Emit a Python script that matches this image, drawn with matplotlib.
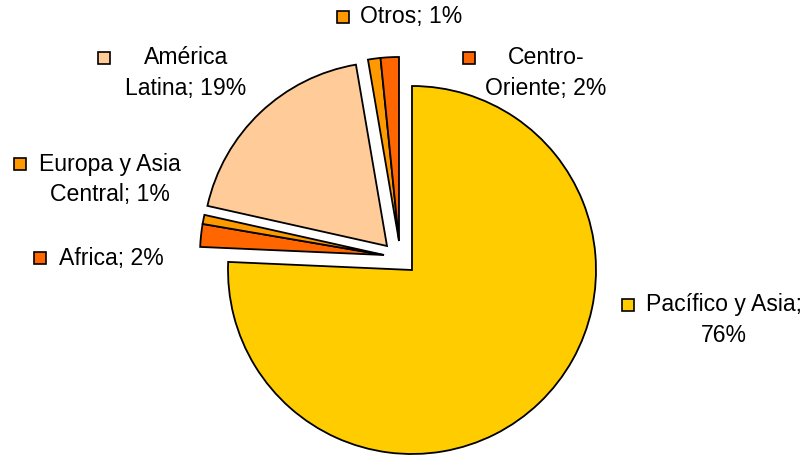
import matplotlib
matplotlib.use("Agg")
import matplotlib.pyplot as plt

# Regional shares (percent)
regions = ["Pacífico y Asia", "Africa", "Europa y Asia\nCentral", "América\nLatina", "Otros", "Centro-\nOriente"]
shares = [75.7, 2.0, 0.8, 18.8, 1.1, 1.6]
colors = ["#FFCC00", "#FF6600", "#FF9900", "#FFCC99", "#FF9900", "#FF6600"]
# text placed between name and value ("; " or ";\n")
separators = [";\n", "; ", "; ", "; ", "; ", "; "]

W, H = 810, 455
fig = plt.figure(figsize=(W / 100, H / 100), dpi=100)
ax = fig.add_axes([0, 0, 1, 1])

def Y(y):
    # convert a top-down pixel row into the axes' upward data coordinate
    return H - y

center = (412, Y(270))
radius = 184
wedges, _ = ax.pie(shares, colors=colors, startangle=90, counterclock=False,
                   radius=radius, center=center,
                   wedgeprops=dict(edgecolor="black", linewidth=1.3))

# pulled-out slices: offsets of each slice's apex from the pie centre (px)
offsets = [(0, 0), (-28, 15), (-28, 15), (-25, 24), (-13, 29), (-13, 29)]
for w, (dx, dy) in zip(wedges, offsets):
    w.set_center((center[0] + dx, center[1] + dy))

ax.set_xlim(0, W)
ax.set_ylim(0, H)
ax.set_aspect("equal")
ax.axis("off")

# label layout: text block centre x, first line y, key square centre (x, y)
label_pos = [
    (723.5, 305, (628, 305)),
    (111, 258, (40, 258)),
    (110, 164, (20, 164)),
    (186, 58, (104, 58)),
    (411.5, 17, (343, 17)),
    (546, 58, (469, 58)),
]
line_gap = 31
font = dict(family="Liberation Sans", size=16.6, color="black")

for name, val, sep, col, (tx, ty, (kx, ky)) in zip(regions, shares, separators, colors, label_pos):
    text = f"{name}{sep}{round(val)}%"
    for i, line in enumerate(text.split("\n")):
        ax.text(tx, Y(ty + i * line_gap), line, ha="center", va="center", **font)
    ax.plot([kx], [Y(ky)], marker="s", markersize=8.5, markerfacecolor=col,
            markeredgecolor="black", markeredgewidth=1.2, linestyle="none")

fig.savefig("out.png", dpi=100)
